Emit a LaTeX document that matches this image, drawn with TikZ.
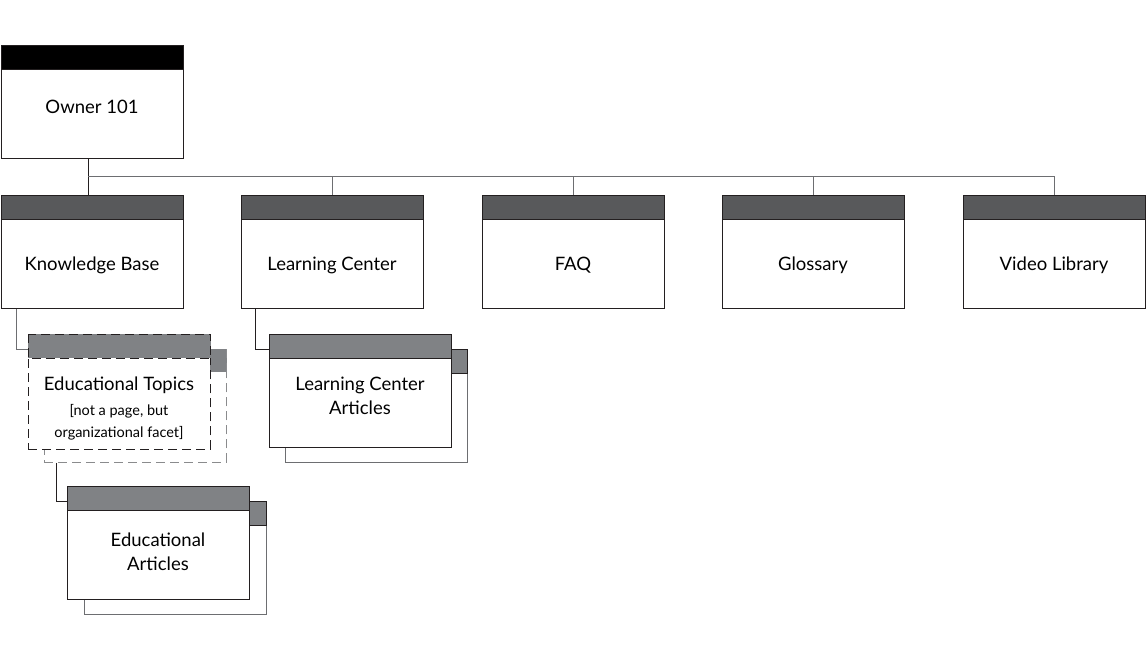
\documentclass[tikz,border=0pt]{standalone}
\usepackage{fontspec}
\setmainfont{Lato}
\definecolor{hdrdark}{HTML}{58595B}
\definecolor{hdrmid}{HTML}{808285}
\definecolor{edge}{HTML}{231F20}
\definecolor{lgray}{HTML}{6D6E71}
\begin{document}
\begin{tikzpicture}[x=1pt,y=-1pt,
  box/.style={draw=edge,line width=0.9pt,fill=white,minimum width=182pt,minimum height=113pt,anchor=north west,inner sep=0pt},
  backbox/.style={box,draw=lgray},
  dbox/.style={box,draw=edge,dash pattern=on 9pt off 5pt},
  dbackbox/.style={box,draw=lgray!80,dash pattern=on 9pt off 5pt},
  lbl/.style={font=\fontsize{18.5}{24}\selectfont,align=center,text=black,anchor=base,inner sep=0pt},
  sublbl/.style={font=\fontsize{14.5}{22}\selectfont,align=center,text=black,anchor=base,inner sep=0pt},
  conn/.style={draw=edge,line width=0.9pt},
  gconn/.style={draw=lgray,line width=0.9pt}]
\useasboundingbox (0,0) rectangle (1147,652);
\newcommand\hdr[3]{\fill[#2] (#1.north west) rectangle ([yshift=-24pt]#1.north east);
  \draw[#3] (#1.north west) rectangle ([yshift=-24pt]#1.north east);}
% top
\node[box] (owner) at (1,45) {};
\hdr{owner}{black}{edge,line width=0.9pt}
\node[lbl] (ownert) at (92,114) {Owner 101};
% level 2
\node[box] (kb) at (1,195) {};
\node[box] (lc) at (241,195) {};
\node[box] (faq) at (482,195) {};
\node[box] (glo) at (722,195) {};
\node[box] (vid) at (963,195) {};
\foreach \n in {kb,lc,faq,glo,vid}{\hdr{\n}{hdrdark}{edge,line width=0.9pt}}
\node[lbl] (kbt) at (92,270) {Knowledge Base};
\node[lbl] (lct) at (332,270) {Learning Center};
\node[lbl] (faqt) at (573,270) {FAQ};
\node[lbl] (glot) at (813,270) {Glossary};
\node[lbl] (vidt) at (1054,270) {Video Library};
% connectors top
\coordinate (j) at (88,176);
\draw[conn] (owner.south -| j) -- (kb.north -| j);
\draw[gconn] (j) -- (vid.north |- j);
\foreach \n in {lc,faq,glo,vid}{\draw[gconn] (\n.north) -- (\n.north |- j);}
% Educational topics (dashed)
\node[dbackbox,minimum height=113pt] (etb) at (44,349) {};
\fill[hdrmid] (etb.north west) rectangle ([yshift=-23pt]etb.north east);
\draw[lgray!80,line width=0.9pt,dash pattern=on 9pt off 5pt] ([yshift=-23pt]etb.north east) -- (etb.north east);
\node[dbox,minimum height=115pt] (et) at (28,334) {};
\fill[hdrmid] (et.north west) rectangle ([yshift=-24pt]et.north east);
\draw[edge,line width=0.9pt,dash pattern=on 9pt off 5pt] (et.north west) rectangle ([yshift=-24pt]et.north east);
\node[lbl] (ett) at (119,390) {Educational Topics};
\node[sublbl] (ets) at (119,437) {[not a page, but\\organizational facet]};
% Learning center articles
\node[backbox] (lcab) at (285,349) {};
\hdr{lcab}{hdrmid}{edge,line width=0.9pt}
\node[box] (lca) at (269,334) {};
\hdr{lca}{hdrmid}{edge,line width=0.9pt}
\node[lbl] (lcat) at (360,414) {Learning Center\\Articles};
% Educational articles
\node[backbox] (eab) at (84,501) {};
\hdr{eab}{hdrmid}{edge,line width=0.9pt}
\node[box] (ea) at (67,486) {};
\hdr{ea}{hdrmid}{edge,line width=0.9pt}
\node[lbl] (eat) at (158,570) {Educational\\Articles};
% sub connectors
\coordinate (c1) at (16,308);
\draw[gconn] (kb.south -| c1) |- (et.west |- 0,349);
\coordinate (c2) at (255,308);
\draw[conn] (lc.south -| c2) |- (lca.west |- 0,349);
\coordinate (c3) at (56,462);
\draw[conn] (etb.south -| c3) |- (ea.west |- 0,501);
\end{tikzpicture}
\end{document}
